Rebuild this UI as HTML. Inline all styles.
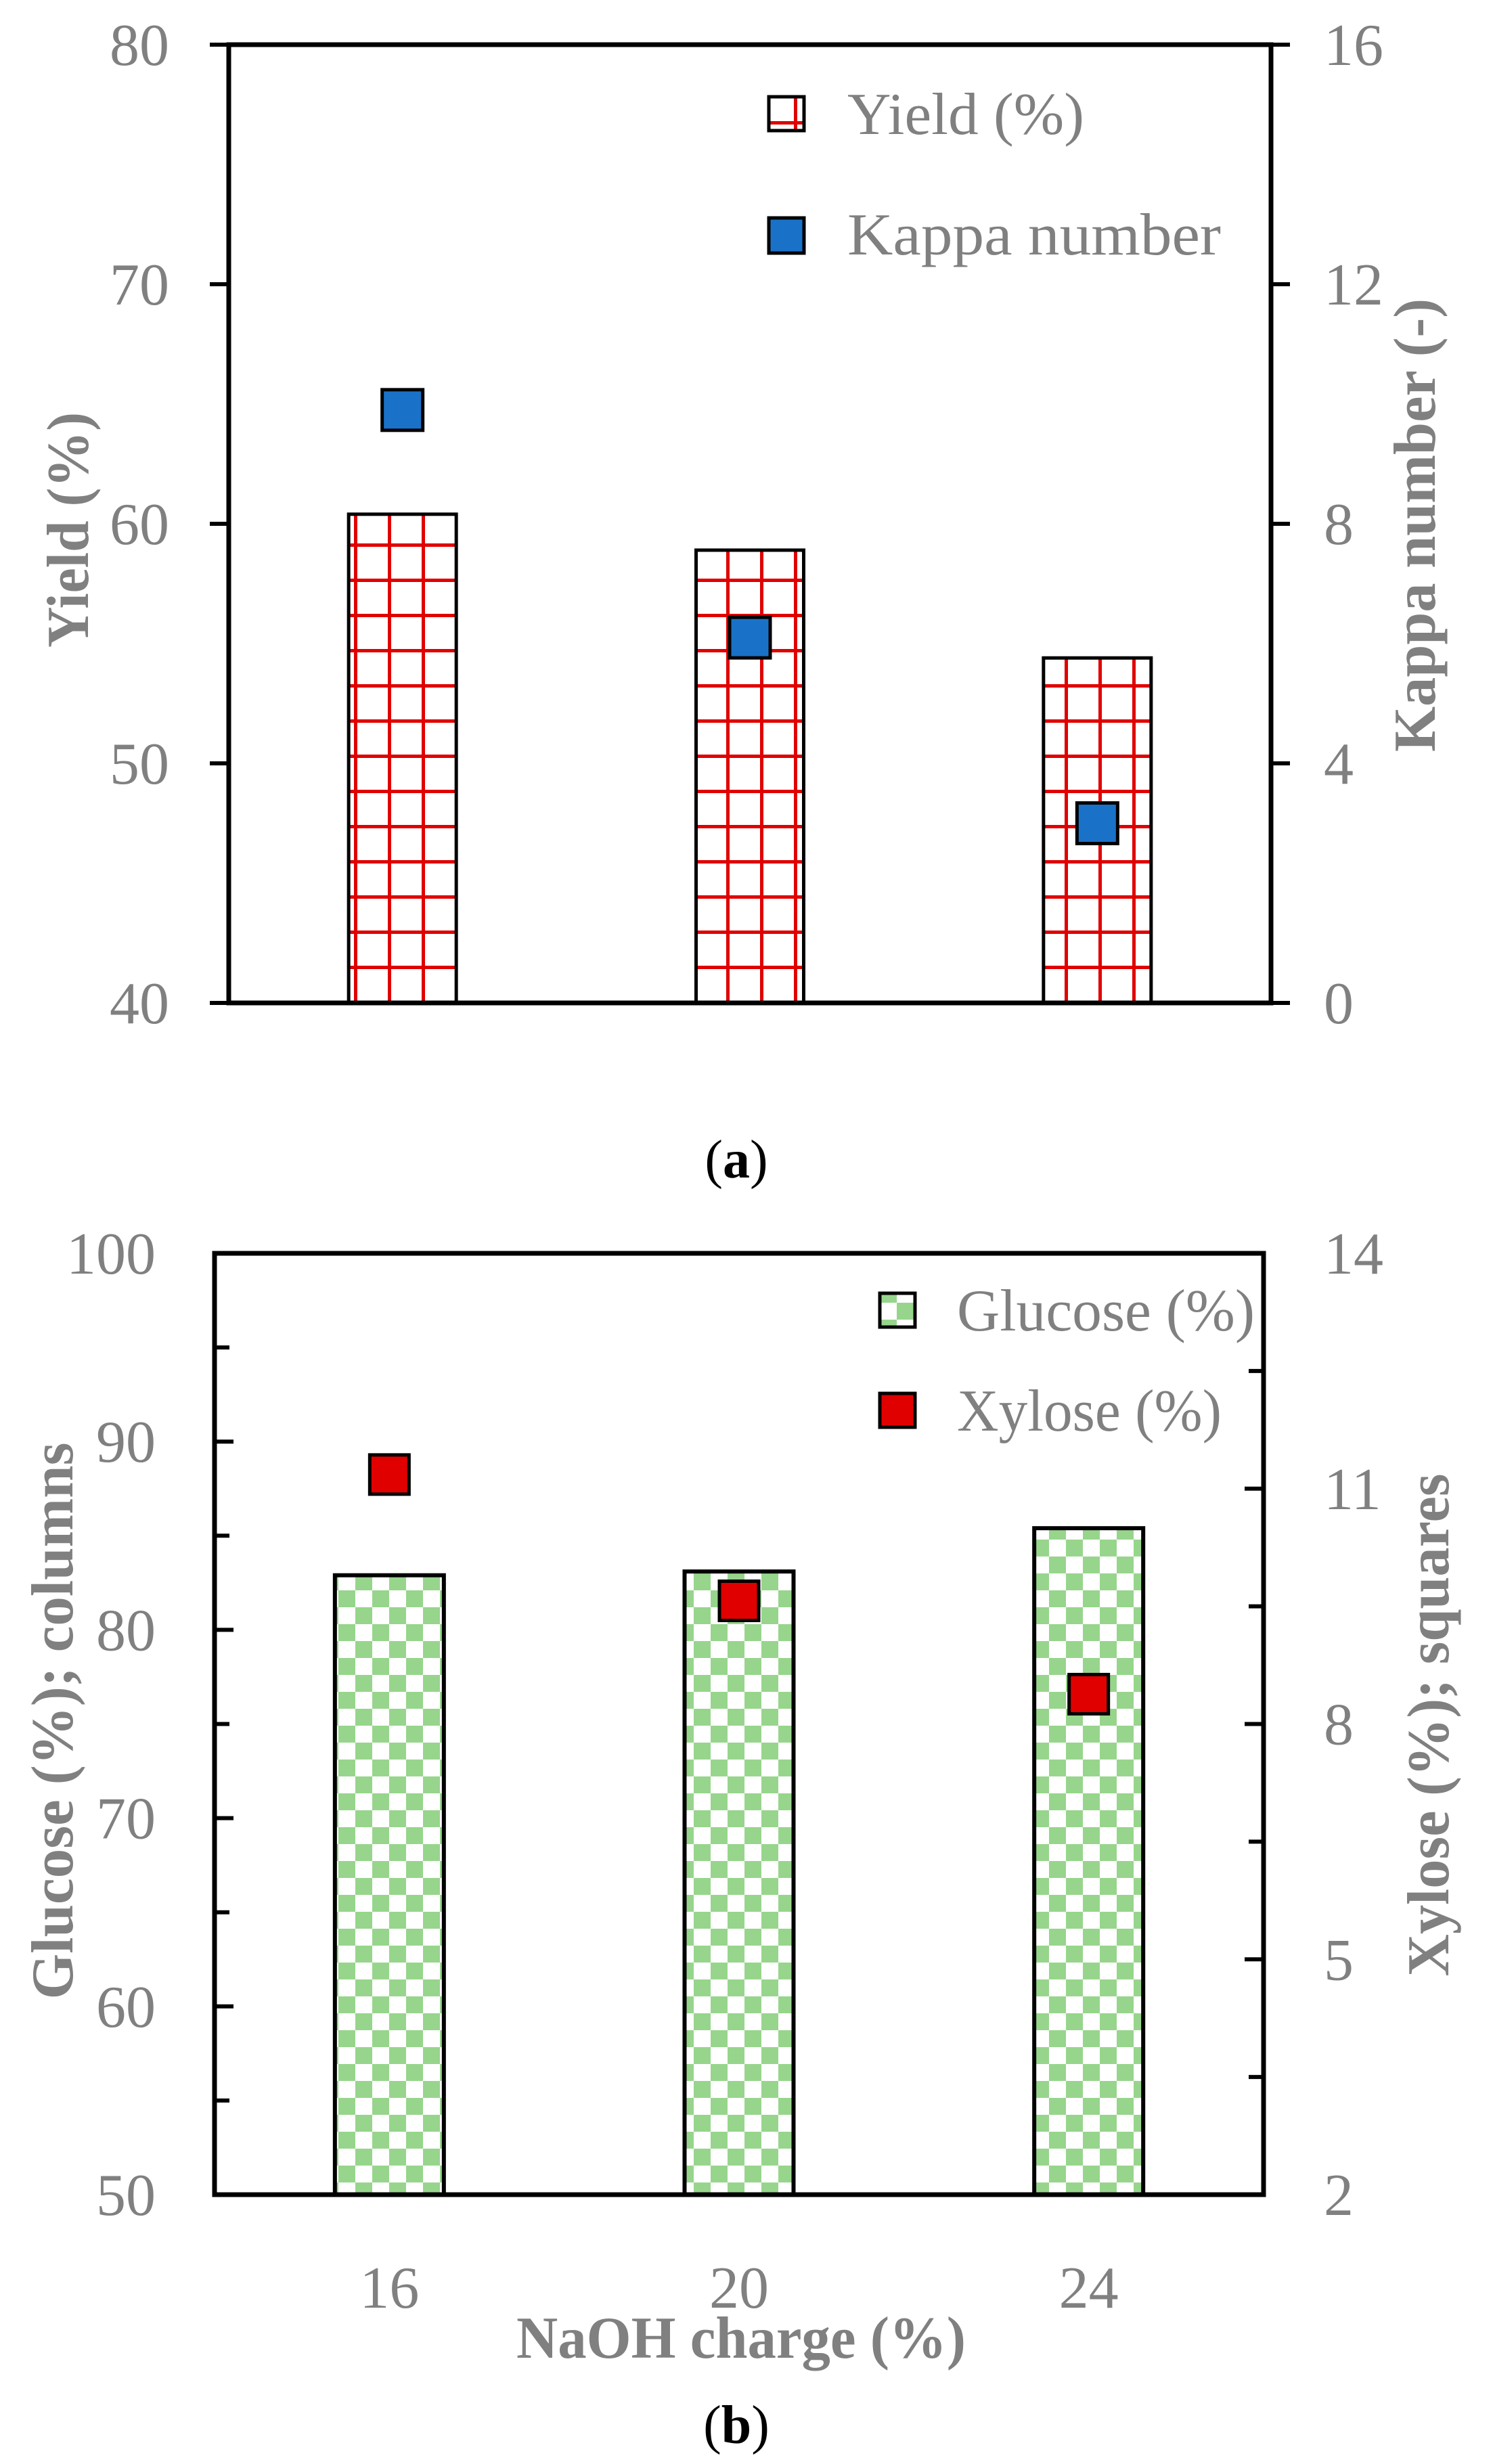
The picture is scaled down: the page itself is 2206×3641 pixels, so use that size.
<!DOCTYPE html>
<html><head><meta charset="utf-8"><style>
html,body{margin:0;padding:0;background:#fff;}
svg{display:block;}
text{font-family:"Liberation Serif",serif;fill:#808080;}
.b{font-weight:bold;}
</style></head>
<body>
<svg id="fig" width="2206" height="3641" viewBox="0 0 2206 3641" xmlns="http://www.w3.org/2000/svg">
<defs>
<pattern id="gridPat" patternUnits="userSpaceOnUse" width="50" height="52" x="0" y="0">
<rect width="50" height="52" fill="#fff"/>
<rect x="23" y="0" width="5" height="52" fill="#e00000"/>
<rect x="0" y="23" width="50" height="5" fill="#e00000"/>
</pattern>
<pattern id="checkPat" patternUnits="userSpaceOnUse" width="50" height="50" x="0" y="0">
<rect width="50" height="50" fill="#fff"/>
<rect x="0" y="0" width="25" height="25" fill="#97d58c"/>
<rect x="25" y="25" width="25" height="25" fill="#97d58c"/>
</pattern>
</defs>
<g id="chartA"></g>
<g id="chartB"></g>
</svg>
<script>
const categories = ["16", "20", "24"];
const yieldValues = [60.4, 58.9, 54.4];
const kappaValues = [9.9, 6.1, 3.0];
const yieldTicks = [40, 50, 60, 70, 80];
const kappaTicks = [0, 4, 8, 12, 16];
const glucoseValues = [82.9, 83.1, 85.4];
const xyloseValues = [11.18, 9.57, 8.38];
const glucoseTicks = [50, 60, 70, 80, 90, 100];
const xyloseTicks = [2, 5, 8, 11, 14];

const NS = "http://www.w3.org/2000/svg";
function mk(parent, tag, attrs, txt) {
  const e = document.createElementNS(NS, tag);
  for (const k in attrs) e.setAttribute(k, attrs[k]);
  if (txt !== undefined) e.textContent = txt;
  parent.appendChild(e);
  return e;
}

/* ---------- Chart A ---------- */
(function () {
  const g = document.getElementById("chartA");
  const L = 338, R = 1878, T = 66, B = 1482;
  const yL = v => B - (v - 40) / 40 * (B - T);
  const yR = v => B - (v - 0) / 16 * (B - T);
  const band = (R - L) / categories.length;
  const xC = i => L + band * (i + 0.5);
  const bw = 159;

  categories.forEach((c, i) => {
    const x = xC(i) - bw / 2, y = yL(yieldValues[i]);
    const bar = mk(g, "rect", {x: x, y: y, width: bw, height: B - y, fill: "url(#gridPat)", stroke: "#000", "stroke-width": 5});
    
    
  });
  categories.forEach((c, i) => {
    const s = 60;
    const m = mk(g, "rect", {x: xC(i) - s / 2, y: yR(kappaValues[i]) - s / 2, width: s, height: s, fill: "#1a72c8", stroke: "#000", "stroke-width": 5});
    
    
  });
  // axes
  const ax = mk(g, "path", {d: `M${L},${T} L${R},${T} L${R},${B} L${L},${B} Z`, fill: "none", stroke: "#000", "stroke-width": 7});
  
  
  yieldTicks.forEach(v => {
    mk(g, "line", {x1: L - 28, x2: L, y1: yL(v), y2: yL(v), stroke: "#000", "stroke-width": 6});
    const t = mk(g, "text", {x: 250, y: yL(v) + 30, "text-anchor": "end", "font-size": 88}, String(v));
    
    
  });
  kappaTicks.forEach(v => {
    mk(g, "line", {x1: R, x2: R + 28, y1: yR(v), y2: yR(v), stroke: "#000", "stroke-width": 6});
    const t = mk(g, "text", {x: 1956, y: yR(v) + 30, "font-size": 88}, String(v));
    
    
  });
})();

/* ---------- Chart B ---------- */
(function () {
  const g = document.getElementById("chartB");
  const L = 317, R = 1867, T = 1852, B = 3243;
  const yL = v => B - (v - 50) / 50 * (B - T);
  const yR = v => B - (v - 2) / 12 * (B - T);
  const band = (R - L) / categories.length;
  const xC = i => L + band * (i + 0.5);
  const bw = 161;

  categories.forEach((c, i) => {
    const x = xC(i) - bw / 2, y = yL(glucoseValues[i]);
    const bar = mk(g, "rect", {x: x, y: y, width: bw, height: B - y, fill: "url(#checkPat)", stroke: "#000", "stroke-width": 6});
    
    
  });
  categories.forEach((c, i) => {
    const s = 58;
    const m = mk(g, "rect", {x: xC(i) - s / 2, y: yR(xyloseValues[i]) - s / 2, width: s, height: s, fill: "#e00000", stroke: "#000", "stroke-width": 5});
    
    
  });
  const ax = mk(g, "path", {d: `M${L},${T} L${R},${T} L${R},${B} L${L},${B} Z`, fill: "none", stroke: "#000", "stroke-width": 7});
  
  
  glucoseTicks.forEach((v, k) => {
    mk(g, "line", {x1: L, x2: L + 28, y1: yL(v), y2: yL(v), stroke: "#000", "stroke-width": 6});
    if (k < glucoseTicks.length - 1) {
      const mv = (v + glucoseTicks[k + 1]) / 2;
      mk(g, "line", {x1: L, x2: L + 22, y1: yL(mv), y2: yL(mv), stroke: "#000", "stroke-width": 6});
    }
    const t = mk(g, "text", {x: 230, y: yL(v) + 30, "text-anchor": "end", "font-size": 88}, String(v));
    
    
  });
  xyloseTicks.forEach((v, k) => {
    mk(g, "line", {x1: R - 28, x2: R, y1: yR(v), y2: yR(v), stroke: "#000", "stroke-width": 6});
    if (k < xyloseTicks.length - 1) {
      const mv = (v + xyloseTicks[k + 1]) / 2;
      mk(g, "line", {x1: R - 22, x2: R, y1: yR(mv), y2: yR(mv), stroke: "#000", "stroke-width": 6});
    }
    const t = mk(g, "text", {x: 1956, y: yR(v) + 30, "font-size": 88}, String(v));
    
    
  });
  categories.forEach((c, i) => {
    const t = mk(g, "text", {x: xC(i), y: 3410, "text-anchor": "middle", "font-size": 88}, c);
    
    
  });
})();
</script>
<svg style="position:absolute;left:0;top:0" width="2206" height="3641" viewBox="0 0 2206 3641" xmlns="http://www.w3.org/2000/svg">
<!-- Chart A legend -->
<g>
<rect x="1136" y="143" width="52" height="50" fill="url(#gridPat)" stroke="#000" stroke-width="5"/>
<text x="1252" y="198" font-size="88" textLength="350" lengthAdjust="spacingAndGlyphs">Yield (%)</text>
<rect x="1136" y="322" width="52" height="52" fill="#1a72c8" stroke="#000" stroke-width="5"/>
<text x="1252" y="376" font-size="88" textLength="552" lengthAdjust="spacingAndGlyphs">Kappa number</text>
</g>
<text class="b" font-size="88" text-anchor="middle" transform="translate(130,783) rotate(-90)" textLength="348" lengthAdjust="spacingAndGlyphs">Yield (%)</text>
<text class="b" font-size="88" text-anchor="middle" transform="translate(2120,776) rotate(-90)" textLength="670" lengthAdjust="spacingAndGlyphs">Kappa number (-)</text>
<text x="1088" y="1740" font-size="80" text-anchor="middle" style="fill:#000">(<tspan font-weight="bold" style="fill:#000">a</tspan>)</text>
<!-- Chart B legend -->
<g>
<rect x="1300" y="1911" width="52" height="50" fill="url(#checkPat)" stroke="#000" stroke-width="5"/>
<text x="1414" y="1966" font-size="88" textLength="440" lengthAdjust="spacingAndGlyphs">Glucose (%)</text>
<rect x="1300" y="2059" width="52" height="50" fill="#e00000" stroke="#000" stroke-width="5"/>
<text x="1414" y="2114" font-size="88" textLength="391" lengthAdjust="spacingAndGlyphs">Xylose (%)</text>
</g>
<text class="b" font-size="88" text-anchor="middle" transform="translate(107,2543) rotate(-90)" textLength="823" lengthAdjust="spacingAndGlyphs">Glucose (%); columns</text>
<text class="b" font-size="88" text-anchor="middle" transform="translate(2140,2549) rotate(-90)" textLength="743" lengthAdjust="spacingAndGlyphs">Xylose (%); squares</text>
<text class="b" x="1095" y="3484" font-size="88" text-anchor="middle" textLength="664" lengthAdjust="spacingAndGlyphs">NaOH charge (%)</text>
<text x="1088" y="3610" font-size="80" text-anchor="middle" style="fill:#000">(<tspan font-weight="bold" style="fill:#000">b</tspan>)</text>
</svg>
</body></html>
